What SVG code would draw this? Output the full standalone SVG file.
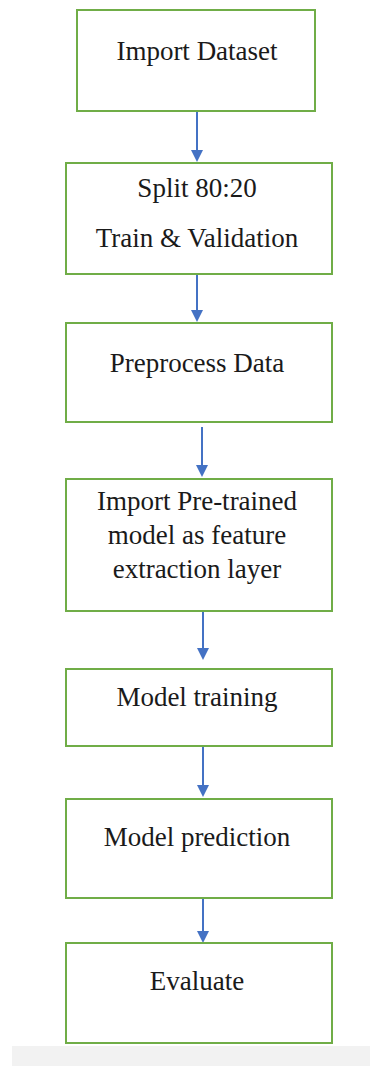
<svg xmlns="http://www.w3.org/2000/svg" width="370" height="1066" viewBox="0 0 370 1066">
<style>
.box{fill:#ffffff;stroke:#70AD47;stroke-width:2}
.c{stroke:#4472C4;stroke-width:2;fill:none}
.h{fill:#4472C4}
</style>
<rect x="0" y="0" width="370" height="1066" fill="#ffffff"/>
<rect x="12" y="1046" width="358" height="20" fill="#f2f2f2"/>
<g id="connectors">
<path class="c" d="M197,111 V150"/><path class="h" d="M191,150 L203,150 L197,162 Z"/>
<path class="c" d="M197,274 V310"/><path class="h" d="M191,310 L203,310 L197,322 Z"/>
<path class="c" d="M202,427 V465"/><path class="h" d="M196,465 L208,465 L202,477 Z"/>
<path class="c" d="M203,611 V648"/><path class="h" d="M197,648 L209,648 L203,660 Z"/>
<path class="c" d="M203,747 V785"/><path class="h" d="M197,785 L209,785 L203,797 Z"/>
<path class="c" d="M203,893 V931"/><path class="h" d="M197,931 L209,931 L203,943 Z"/>
</g>
<g font-family="Liberation Serif, Times New Roman, serif" font-size="27" fill="#1a1a1a" text-anchor="middle">
<g id="n1"><rect class="box" x="77" y="10" width="238" height="101"/><text x="197" y="60">Import Dataset</text></g>
<g id="n2"><rect class="box" x="66" y="163" width="266" height="111"/><text x="197" y="197">Split 80:20</text><text x="197" y="247">Train &amp; Validation</text></g>
<g id="n3"><rect class="box" x="66" y="323" width="266" height="99"/><text x="197" y="372">Preprocess Data</text></g>
<g id="n4"><rect class="box" x="66" y="479" width="266" height="132"/><text x="197" y="510">Import Pre-trained</text><text x="197" y="544">model as feature</text><text x="197" y="578">extraction layer</text></g>
<g id="n5"><rect class="box" x="66" y="669" width="266" height="77"/><text x="197" y="706">Model training</text></g>
<g id="n6"><rect class="box" x="66" y="799" width="266" height="99"/><text x="197" y="846">Model prediction</text></g>
<g id="n7"><rect class="box" x="66" y="943" width="266" height="100"/><text x="197" y="990">Evaluate</text></g>
</g>
</svg>
